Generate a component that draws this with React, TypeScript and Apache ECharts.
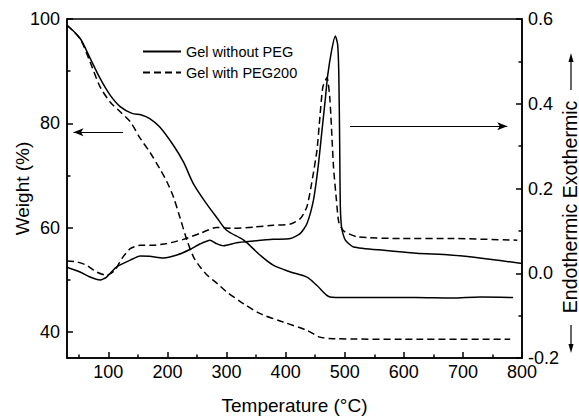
import React, { useEffect, useRef } from "react";
import * as echarts from "echarts";

// TGA – Gel without PEG (weight %)
const tgaNoPegT = [30, 52, 69, 86, 103, 120, 140, 156, 170, 187, 210, 227, 244, 266, 283, 300, 329, 357, 379, 408, 436, 453, 475, 500, 560, 620, 680, 730, 785];
const tgaNoPegW = [98.8, 96.3, 92.5, 88.6, 85.4, 83.2, 81.9, 81.6, 80.9, 79.3, 75.8, 72.6, 68.4, 64.6, 62.0, 59.5, 57.6, 54.7, 52.8, 51.5, 50.5, 48.9, 46.7, 46.6, 46.6, 46.6, 46.5, 46.7, 46.6];

// TGA – Gel with PEG200 (weight %)
const tgaPegT = [30, 52, 69, 86, 103, 120, 137, 154, 170, 187, 199, 210, 221, 233, 244, 255, 266, 283, 300, 329, 357, 396, 436, 458, 481, 600, 780];
const tgaPegW = [98.8, 96.2, 91.8, 87.0, 84.1, 82.2, 80.3, 77.1, 74.5, 71.3, 68.8, 65.9, 62.0, 57.6, 54.4, 52.5, 51.0, 49.4, 47.7, 45.4, 43.5, 41.9, 40.3, 39.0, 38.7, 38.6, 38.6];

// DTA – Gel without PEG
const dtaNoPegT = [30, 52, 69, 86, 97, 114, 137, 154, 170, 193, 216, 238, 255, 272, 283, 295, 317, 346, 379, 408, 425, 436, 447, 455, 461, 467, 471, 478, 484, 488, 490, 491.5, 492.5, 495, 501, 515, 566, 622, 678, 735, 800];
const dtaNoPegD = [0.014, 0.003, -0.009, -0.016, -0.009, 0.015, 0.031, 0.041, 0.040, 0.036, 0.043, 0.056, 0.069, 0.078, 0.070, 0.065, 0.072, 0.076, 0.080, 0.082, 0.094, 0.117, 0.172, 0.251, 0.330, 0.409, 0.465, 0.527, 0.560, 0.540, 0.470, 0.300, 0.160, 0.105, 0.078, 0.062, 0.054, 0.047, 0.043, 0.035, 0.023];

// DTA – Gel with PEG200
const dtaPegT = [30, 46, 63, 80, 97, 111, 123, 137, 154, 176, 199, 227, 255, 283, 312, 346, 379, 408, 425, 436, 444, 453, 458, 463, 470, 475, 481, 486, 490, 498, 521, 594, 678, 792];
const dtaPegD = [0.029, 0.027, 0.019, 0.003, -0.005, 0.007, 0.035, 0.058, 0.066, 0.066, 0.070, 0.080, 0.094, 0.108, 0.106, 0.109, 0.113, 0.116, 0.129, 0.157, 0.212, 0.290, 0.369, 0.440, 0.462, 0.409, 0.251, 0.172, 0.120, 0.100, 0.086, 0.082, 0.082, 0.078];

const xMajor = [100, 200, 300, 400, 500, 600, 700, 800];
const xMinor = [50, 150, 250, 350, 450, 550, 650, 750];
const yLeftMajor = [40, 60, 80, 100];
const yLeftMinor = [50, 70, 90];

const seriesNames = ["Gel without PEG", "Gel with PEG200"];

const FONT = "'Liberation Sans', Arial, Helvetica, sans-serif";

const zip = (xs: number[], ys: number[]) => xs.map((x, i) => [x, ys[i]]);

export default function App() {
  const ref = useRef<HTMLDivElement>(null);
  useEffect(() => {
    const chart = echarts.init(ref.current!, null, { renderer: "svg" });
    const axisLine = { show: true, onZero: false, lineStyle: { color: "#000", width: 1.5 } };
    const labelStyle = { color: "#000", fontSize: 18, fontFamily: FONT };
    chart.setOption({
      animation: false,
      backgroundColor: "#fff",
      grid: {
        left: 67,
        right: 57,
        top: 19,
        bottom: 60,
        containLabel: false,
        outerBoundsMode: "none",
        show: true,
        borderColor: "#000",
        borderWidth: 1.5,
        backgroundColor: "transparent",
      },
      legend: {
        data: seriesNames,
        orient: "vertical",
        left: 142,
        top: 44,
        padding: 0,
        itemWidth: 38,
        itemHeight: 14,
        itemGap: 6,
        itemStyle: { opacity: 0 },
        textStyle: { color: "#000", fontSize: 14.5, fontFamily: FONT },
      },
      xAxis: [
        {
          type: "value",
          min: 30,
          max: 800,
          position: "bottom",
          name: "Temperature (°C)",
          nameLocation: "middle",
          nameGap: 38,
          nameTextStyle: { color: "#000", fontSize: 19, fontFamily: FONT },
          axisLine,
          axisTick: { show: true, inside: true, length: 6, customValues: xMajor, lineStyle: { color: "#000", width: 1.5 } },
          axisLabel: { ...labelStyle, margin: 5, customValues: xMajor },
          splitLine: { show: false },
        },
        {
          type: "value",
          min: 30,
          max: 800,
          position: "bottom",
          axisLine: { show: false, onZero: false },
          axisTick: { show: true, inside: true, length: 3.5, customValues: xMinor, lineStyle: { color: "#000", width: 1.5 } },
          axisLabel: { show: false },
          splitLine: { show: false },
        },
      ],
      yAxis: [
        {
          type: "value",
          min: 35,
          max: 100,
          position: "left",
          name: "Weight (%)",
          nameLocation: "middle",
          nameGap: 35,
          nameMoveOverlap: false,
          nameTextStyle: { color: "#000", fontSize: 19, fontFamily: FONT },
          axisLine,
          axisTick: { show: true, inside: true, length: 6, customValues: yLeftMajor, lineStyle: { color: "#000", width: 1.5 } },
          axisLabel: { ...labelStyle, margin: 7, customValues: yLeftMajor },
          splitLine: { show: false },
        },
        {
          type: "value",
          min: -0.2,
          max: 0.6,
          interval: 0.2,
          position: "right",
          axisLine,
          axisTick: { show: true, inside: true, length: 6, lineStyle: { color: "#000", width: 1.5 } },
          minorTick: { show: true, splitNumber: 2, length: 3.5, lineStyle: { color: "#000", width: 1.5 } },
          axisLabel: { ...labelStyle, margin: 6, formatter: (v: number) => v.toFixed(1) },
          splitLine: { show: false },
        },
        {
          type: "value",
          min: 35,
          max: 100,
          position: "left",
          axisLine: { show: false, onZero: false },
          axisTick: { show: true, inside: true, length: 3.5, customValues: yLeftMinor, lineStyle: { color: "#000", width: 1.5 } },
          axisLabel: { show: false },
          splitLine: { show: false },
        },
      ],
      series: [
        {
          name: seriesNames[0],
          type: "line",
          xAxisIndex: 0,
          yAxisIndex: 0,
          symbol: "none",
          smooth: 0.3,
          data: zip(tgaNoPegT, tgaNoPegW),
          lineStyle: { color: "#000", width: 1.5, type: "solid" },
          itemStyle: { color: "#000" },
          markLine: {
            silent: true,
            symbol: ["none", "arrow"],
            symbolSize: [6, 10],
            label: { show: false },
            lineStyle: { color: "#000", width: 1, type: "solid" },
            data: [[{ coord: [125, 78.3] }, { coord: [41, 78.3] }]],
          },
        },
        {
          name: seriesNames[1],
          type: "line",
          xAxisIndex: 0,
          yAxisIndex: 0,
          symbol: "none",
          smooth: 0.3,
          data: zip(tgaPegT, tgaPegW),
          lineStyle: { color: "#000", width: 1.5, type: [7, 4] },
          itemStyle: { color: "#000" },
        },
        {
          name: "Gel without PEG (DTA)",
          type: "line",
          xAxisIndex: 0,
          yAxisIndex: 1,
          symbol: "none",
          smooth: 0.2,
          data: zip(dtaNoPegT, dtaNoPegD),
          lineStyle: { color: "#000", width: 1.5, type: "solid" },
          itemStyle: { color: "#000" },
          markLine: {
            silent: true,
            symbol: ["none", "arrow"],
            symbolSize: [6, 10],
            label: { show: false },
            lineStyle: { color: "#000", width: 1, type: "solid" },
            data: [[{ coord: [509, 0.347] }, { coord: [775, 0.347] }]],
          },
        },
        {
          name: "Gel with PEG200 (DTA)",
          type: "line",
          xAxisIndex: 0,
          yAxisIndex: 1,
          symbol: "none",
          smooth: 0.2,
          data: zip(dtaPegT, dtaPegD),
          lineStyle: { color: "#000", width: 1.5, type: [7, 4] },
          itemStyle: { color: "#000" },
        },
      ],
      graphic: [
        {
          type: "text",
          x: 569.5,
          y: 207,
          rotation: Math.PI / 2,
          style: {
            text: "Endothermic Exothermic",
            fontSize: 19.5,
            fontFamily: FONT,
            lineHeight: 14,
            fill: "#000",
            align: "center",
            verticalAlign: "middle",
          },
        },
        { type: "line", shape: { x1: 571, y1: 90, x2: 571, y2: 60 }, style: { stroke: "#000", lineWidth: 1.2 } },
        { type: "polygon", shape: { points: [[571, 53], [568.5, 62], [573.5, 62]] }, style: { fill: "#000" } },
        { type: "line", shape: { x1: 571, y1: 325, x2: 571, y2: 346 }, style: { stroke: "#000", lineWidth: 1.2 } },
        { type: "polygon", shape: { points: [[571, 353], [568.5, 344], [573.5, 344]] }, style: { fill: "#000" } },
      ],
    });
    return () => chart.dispose();
  }, []);
  return <div ref={ref} style={{ position: "fixed", left: 0, top: 0, width: 579, height: 418, background: "#fff" }} />;
}
